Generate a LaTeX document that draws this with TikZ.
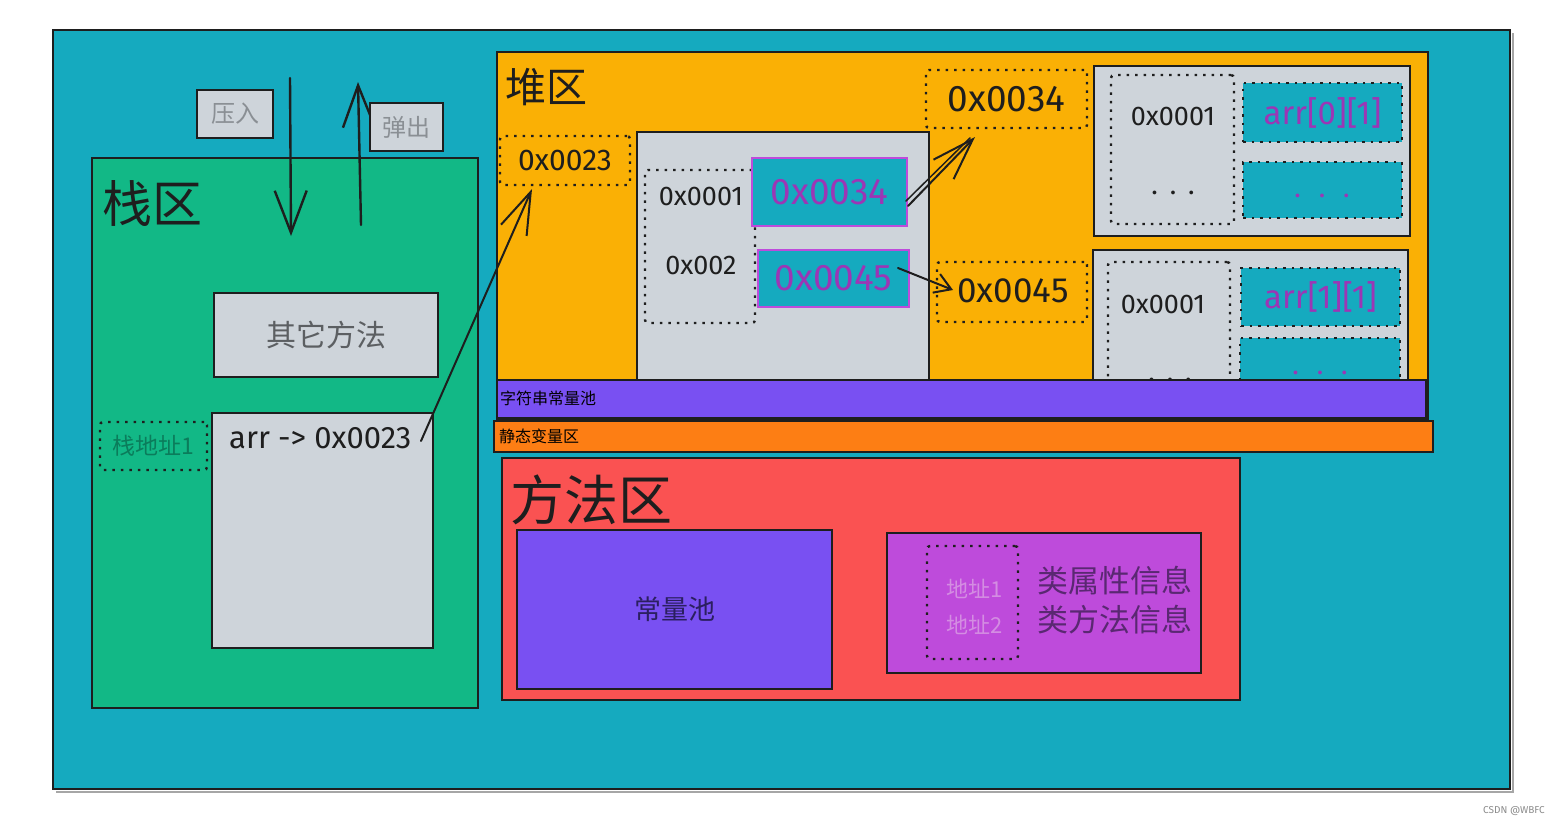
\documentclass[tikz,border=0pt]{standalone}
\usepackage{fontspec}
\setmainfont{Fira Sans}
\newfontfamily\cjk{Noto Sans CJK SC}
\usetikzlibrary{arrows.meta,fit}
\definecolor{cteal}{HTML}{15AABF}
\definecolor{cgreen}{HTML}{12B886}
\definecolor{cyellow}{HTML}{FAB005}
\definecolor{cviolet}{HTML}{7950F2}
\definecolor{corange}{HTML}{FD7E14}
\definecolor{cred}{HTML}{FA5252}
\definecolor{cgray}{HTML}{CED4DA}
\definecolor{cgrape}{HTML}{BE4BDB}
\definecolor{cgrapetxt}{HTML}{9C36B5}
\definecolor{cink}{HTML}{1E1E1E}
\definecolor{cfaint}{HTML}{8A8F94}
\definecolor{cother}{HTML}{5C5F62}
\definecolor{cdkgreen}{HTML}{0B7C5B}
\definecolor{cad}{HTML}{D48DE2}
\definecolor{ccls}{HTML}{5A2872}
\definecolor{cpooltxt}{HTML}{2B1F60}
\newcommand\zbox[6]{\node[#1, fit={(#3,#4) (#5,#6)}] (#2) {};}
\newcommand\fs[1]{\fontsize{#1}{#1}\selectfont}
\begin{document}
\begin{tikzpicture}[x=1pt,y=-1pt,
  zb/.style={rectangle, inner sep=0pt, outer sep=0pt},
  region/.style={zb, draw=cink, line width=2pt},
  graybox/.style={zb, fill=cgray, draw=cink, line width=2.3pt},
  dotbox/.style={zb, draw=cink, line width=2.4pt, dash pattern=on 2.5pt off 6pt, rounded corners=3pt},
  tealbox/.style={zb, fill=cteal, draw=cgrape, line width=2.4pt},
  tealdot/.style={zb, fill=cteal, draw=cink, line width=2.4pt, dash pattern=on 2.5pt off 6pt},
  cn/.style={inner sep=0pt, font=\cjk},
  hx/.style={inner sep=0pt, text=cink},
  sk/.style={draw=cink, line width=2.4pt, line cap=round},
  bigarrow/.style={sk, -{Straight Barb[length=42pt,width=32pt,line width=2.4pt]}},
  midarrow/.style={sk, line width=2pt, -{Straight Barb[length=42pt,width=28pt,line width=2pt]}},
  smallarrow/.style={sk, line width=2pt, -{Straight Barb[length=16pt,width=20pt,line width=2pt]}}
]
\useasboundingbox (0,0) rectangle (1560,825);
\fill[white] (0,0) rectangle (1560,825);
% outer frame
\draw[line width=2pt, draw=black!35] (56,792) -- (1513,792) -- (1513,33);
\zbox{region, fill=cteal, line width=1.5pt}{outer}{53}{30}{1510}{789}

% ---------- stack ----------
\zbox{region, fill=cgreen}{stack}{92}{158}{478}{708}
\node[cn, text=cink, anchor=west] (lstack) at (102,203) {\fs{50}栈区};
\zbox{graybox}{pushbox}{197}{90}{273}{138}
\node[cn, text=cfaint] (tpush) at (pushbox.center) {\fs{24}压入};
\coordinate (pushS) at (290,78);
\coordinate (pushE) at (291,236);
\draw[bigarrow] (pushS) -- (pushE);
\coordinate (popS) at (361,225);
\coordinate (popE) at (358,82);
\draw[bigarrow] (popS) -- (popE);
\zbox{graybox}{popbox}{370}{103}{443}{151}
\node[cn, text=cfaint] (tpop) at (popbox.center) {\fs{24}弹出};
\zbox{graybox}{other}{214}{293}{438}{377}
\node[cn, text=cother] (tother) at (other.center) {\fs{30}其它方法};
\zbox{dotbox}{addr1}{100}{422}{207}{470}
\node[cn, text=cdkgreen] (taddr1) at (addr1.center) {\fs{23}栈地址1};
\zbox{graybox}{arrbox}{212}{413}{433}{648}
\node[hx, anchor=west] (tarr) at (229,438) {\fs{31}arr -> 0x0023};

% ---------- heap ----------
\zbox{region, fill=cyellow}{heap}{497}{52}{1428}{420}
\node[cn, text=cink, anchor=west] (lheap) at (505,87) {\fs{41}堆区};
\zbox{dotbox}{b0023}{500}{136}{630}{185}
\node[hx] (t0023) at (b0023.center) {\fs{30}0x0023};
\zbox{graybox}{obj}{637}{132}{929}{380}
\zbox{dotbox}{objin}{645}{170}{755}{323}
\node[hx] (t0001a) at (701,196) {\fs{27}0x0001};
\node[hx] (t002) at (701,265) {\fs{27}0x002};
\zbox{tealbox}{t34}{752}{158}{907}{226}
\node[hx, text=cgrapetxt] (t0034a) at (t34.center) {\fs{37}0x0034};
\zbox{tealbox}{t45}{758}{250}{909}{307}
\node[hx, text=cgrapetxt] (t0045a) at (t45.center) {\fs{37}0x0045};
\zbox{dotbox}{d34}{926}{70}{1087}{128}
\node[hx] (t0034b) at (d34.center) {\fs{37}0x0034};
\zbox{dotbox}{d45}{937}{262}{1087}{322}
\node[hx] (t0045b) at (1013,291) {\fs{35}0x0045};

\zbox{graybox}{r1}{1094}{66}{1410}{236}
\zbox{dotbox}{r1in}{1111}{75}{1234}{224}
\node[hx] (t0001b) at (1173,116) {\fs{27}0x0001};
\node[hx] (tdots1) at (1173,193) {\fs{27}.\hspace{12pt}.\hspace{12pt}.};
\zbox{tealdot}{r1a}{1243}{83}{1402}{142}
\node[hx, text=cgrapetxt] (tarr01) at (r1a.center) {\fs{33}arr[0][1]};
\zbox{tealdot}{r1b}{1243}{162}{1402}{218}
\node[hx, text=cgrapetxt] (tdots2) at (1322,196) {\fs{27}.\hspace{18pt}.\hspace{18pt}.};

\zbox{graybox}{r2}{1093}{250}{1408}{381}
\zbox{dotbox}{r2in}{1108}{262}{1230}{395}
\node[hx] (t0001c) at (1163,304) {\fs{27}0x0001};
\node[hx] (tdots4) at (1170,380) {\fs{27}.\hspace{12pt}.\hspace{12pt}.};
\zbox{tealdot}{r2a}{1241}{268}{1400}{326}
\node[hx, text=cgrapetxt] (tarr11) at (r2a.center) {\fs{33}arr[1][1]};
\zbox{tealdot}{r2b}{1240}{338}{1400}{395}
\node[hx, text=cgrapetxt] (tdots3) at (1320,373) {\fs{27}.\hspace{18pt}.\hspace{18pt}.};

% heap arrows
\coordinate (a2s) at (908,206);
\coordinate (a2e) at (975,137);
\draw[sk, line width=1.5pt] (906,201) -- (970,138);
\draw[midarrow] (a2s) -- (a2e);
\coordinate (a3s) at (898,268);
\coordinate (a3e) at (953,290);
\draw[smallarrow] (a3s) -- (a3e);

% ---------- bars ----------
\zbox{region, fill=cviolet, line width=1.4pt}{strpool}{497}{380}{1426}{418}
\node[cn, text=black, anchor=west] (lstr) at (500,398) {\fs{16}字符串常量池};
\zbox{region, fill=corange, line width=1.4pt}{static}{494}{421}{1433}{452}
\node[cn, text=black, anchor=west] (lstatic) at (499,436) {\fs{16}静态变量区};

% ---------- method area ----------
\zbox{region, fill=cred}{method}{502}{458}{1240}{700}
\node[cn, text=cink, anchor=west] (lmethod) at (510,500) {\fs{54}方法区};
\zbox{region, fill=cviolet}{cpool}{517}{530}{832}{689}
\node[cn, text=cpooltxt] (tconst) at (cpool.center) {\fs{27}常量池};
\zbox{region, fill=cgrape, line width=2.4pt}{cls}{887}{533}{1201}{673}
\zbox{dotbox}{clsin}{927}{546}{1018}{659}
\node[cn, text=cad] (tad1) at (975,589) {\fs{22}地址1};
\node[cn, text=cad] (tad2) at (975,625) {\fs{22}地址2};
\node[cn, text=ccls, anchor=west] (tcls1) at (1037,581) {\fs{31}类属性信息};
\node[cn, text=ccls, anchor=west] (tcls2) at (1037,620) {\fs{31}类方法信息};

% stack -> heap arrow
\coordinate (a1s) at (421,441);
\coordinate (a1e) at (532,189);
\draw[midarrow] (a1s) -- (a1e);

\node[inner sep=0pt, text=black!45, anchor=east] (wm) at (1545,811) {\fs{10}CSDN @WBFC};
\end{tikzpicture}
\end{document}
